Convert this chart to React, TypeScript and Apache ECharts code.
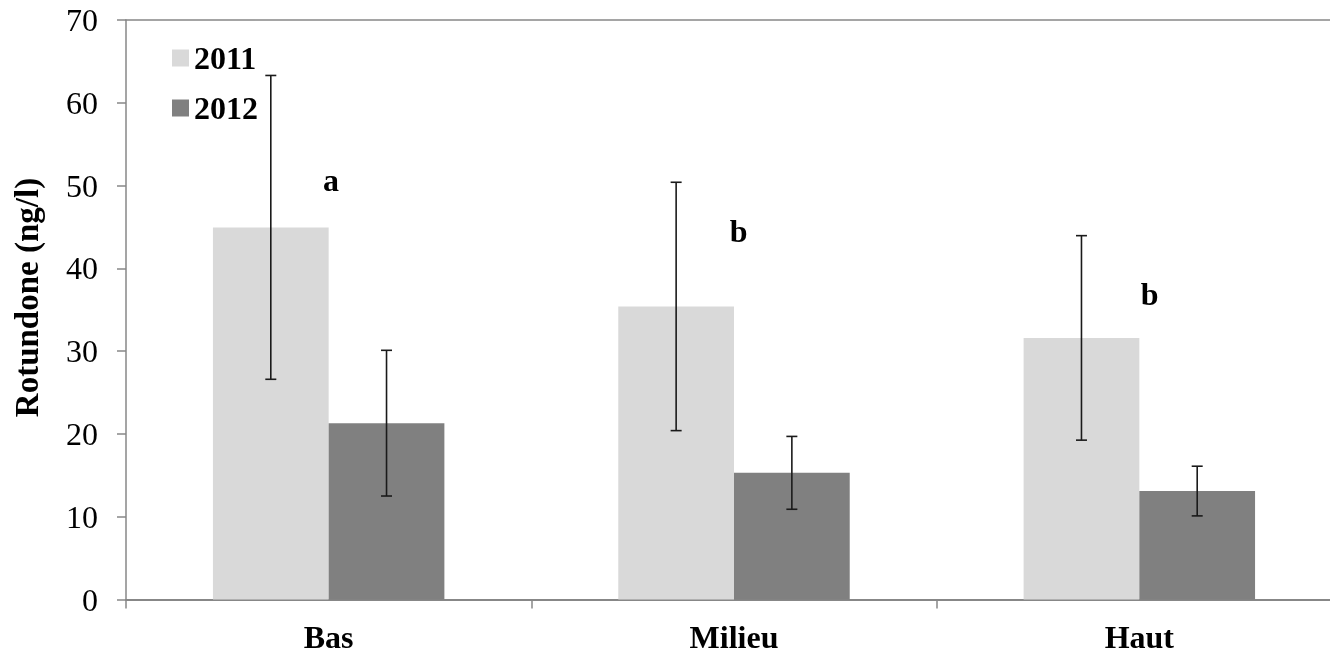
import React, { useEffect, useRef } from "react";
import * as echarts from "echarts";

const categories = ["Bas", "Milieu", "Haut"];
const seriesNames = ["2011", "2012"];
const values2011 = [44.95, 35.4, 31.6];
const values2012 = [21.3, 15.3, 13.1];
const err2011 = [18.35, 15.0, 12.35];
const err2012 = [8.8, 4.4, 3.0];
const letters = ["a", "b", "b"];
const letterY = [50.7, 44.5, 36.9];
const yTicks = { min: 0, max: 70, interval: 10 };
const yTitle = "Rotundone (ng/l)";

const FONT = "'Times New Roman', 'Liberation Serif', serif";
const AXIS_COLOR = "#878787";
const GAP = 0.429;

export default function App() {
  const ref = useRef<HTMLDivElement>(null);
  useEffect(() => {
    if (!ref.current) return;
    const chart = echarts.init(ref.current, undefined, { renderer: "svg" });

    const errData: number[][] = [];
    values2011.forEach((v, i) => errData.push([i, v - err2011[i], v + err2011[i], 0]));
    values2012.forEach((v, i) => errData.push([i, v - err2012[i], v + err2012[i], 1]));
    const letterData = letters.map((l, i) => [i, letterY[i]]);
    const letterDx = [2.3, 4.7, 10.2];

    chart.setOption({
      animation: false,
      textStyle: { fontFamily: FONT },
      grid: { left: 126, top: 20, right: 0, height: 579.5, containLabel: false },
      legend: {
        orient: "vertical",
        left: 172,
        top: 42,
        padding: 0,
        itemWidth: 17,
        itemHeight: 17,
        itemGap: 18,
        icon: "rect",
        data: seriesNames,
        textStyle: { fontFamily: FONT, fontSize: 32, fontWeight: "bold", color: "#000", lineHeight: 32 },
      },
      xAxis: [
        {
          type: "category",
          data: categories,
          position: "bottom",
          axisLine: { lineStyle: { color: AXIS_COLOR, width: 2 } },
          axisTick: { show: true, length: 9, lineStyle: { color: AXIS_COLOR, width: 1.5 } },
          axisLabel: { fontFamily: FONT, fontSize: 32, fontWeight: "bold", color: "#000", margin: 21, lineHeight: 32 },
          splitLine: { show: false },
        },
        {
          type: "category",
          data: categories,
          position: "top",
          axisLine: { show: true, lineStyle: { color: AXIS_COLOR, width: 1.5 } },
          axisTick: { show: false },
          axisLabel: { show: false },
          splitLine: { show: false },
        },
      ],
      yAxis: {
        type: "value",
        min: yTicks.min,
        max: yTicks.max,
        interval: yTicks.interval,
        axisLine: { show: true, lineStyle: { color: AXIS_COLOR, width: 1.5 } },
        axisTick: { show: true, length: 9, lineStyle: { color: AXIS_COLOR, width: 1.5 } },
        axisLabel: { fontFamily: FONT, fontSize: 32, color: "#000", margin: 28 },
        splitLine: { show: false },
      },
      graphic: [
        {
          type: "text",
          x: 27,
          y: 297.5,
          rotation: Math.PI / 2,
          style: {
            text: yTitle,
            fontFamily: FONT,
            fontSize: 33,
            fontWeight: "bold",
            fill: "#000",
            align: "center",
            verticalAlign: "middle",
          },
        },
      ],
      series: [
        {
          name: seriesNames[0],
          type: "bar",
          data: values2011,
          barGap: "0%",
          barCategoryGap: "42.9%",
          itemStyle: { color: "#d9d9d9" },
        },
        {
          name: seriesNames[1],
          type: "bar",
          data: values2012,
          barGap: "0%",
          barCategoryGap: "42.9%",
          itemStyle: { color: "#808080" },
        },
        {
          type: "custom",
          data: errData,
          encode: { x: 0, y: [1, 2] },
          z: 10,
          renderItem: (params: any, api: any) => {
            const cat = api.value(0);
            const lo = api.coord([cat, api.value(1)]);
            const hi = api.coord([cat, api.value(2)]);
            const band = api.size([1, 0])[0];
            const bw = (band * (1 - GAP)) / 2;
            const x = lo[0] + (api.value(3) === 0 ? -bw / 2 : bw / 2);
            const cap = 5.5;
            const st = { stroke: "#1a1a1a", lineWidth: 1.6 };
            return {
              type: "group",
              children: [
                { type: "line", shape: { x1: x, y1: lo[1], x2: x, y2: hi[1] }, style: st },
                { type: "line", shape: { x1: x - cap, y1: lo[1], x2: x + cap, y2: lo[1] }, style: st },
                { type: "line", shape: { x1: x - cap, y1: hi[1], x2: x + cap, y2: hi[1] }, style: st },
              ],
            };
          },
        },
        {
          type: "custom",
          data: letterData,
          encode: { x: 0, y: 1 },
          z: 10,
          renderItem: (params: any, api: any) => {
            const idx = params.dataIndex;
            const p = api.coord([api.value(0), api.value(1)]);
            return {
              type: "text",
              x: p[0] + letterDx[idx],
              y: p[1],
              style: {
                text: letters[idx],
                fontFamily: FONT,
                fontSize: 32,
                fontWeight: "bold",
                fill: "#000",
                align: "center",
                verticalAlign: "middle",
              },
            };
          },
        },
      ],
    });
    return () => chart.dispose();
  }, []);
  return (
    <div style={{ position: "fixed", left: 0, top: 0, width: 1330, height: 653, overflow: "hidden" }}>
      <div ref={ref} style={{ position: "absolute", left: 0, top: 0, width: 1342, height: 653 }} />
    </div>
  );
}
